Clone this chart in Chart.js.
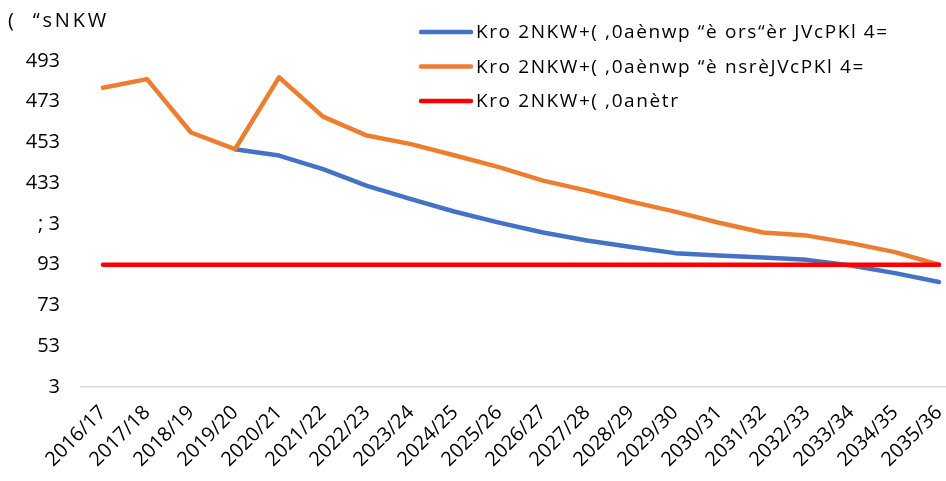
<!DOCTYPE html>
<html>
<head>
<meta charset="utf-8">
<script src="https://cdn.jsdelivr.net/npm/chart.js@4"></script>
<style>
  html, body { margin: 0; padding: 0; background: #fff; overflow: hidden; }
  #wrap { width: 962px; height: 481px; }
</style>
</head>
<body>
<div id="wrap"><canvas id="c" width="962" height="481"></canvas></div>
<script>
// Categories (financial years)
const years = ['2016/17','2017/18','2018/19','2019/20','2020/21','2021/22','2022/23','2023/24','2024/25','2025/26',
               '2026/27','2027/28','2028/29','2029/30','2030/31','2031/32','2032/33','2033/34','2034/35','2035/36'];

// Series values
const seriesBlue = [null, null, null, 116.7, 113.6, 106.9, 98.7, 92.2, 86.0, 80.7,
                    75.8, 71.9, 68.7, 65.7, 64.5, 63.6, 62.4, 59.6, 55.9, 51.5];
const seriesOrange = [146.9, 151.1, 124.9, 116.7, 152.0, 132.7, 123.4, 119.2, 113.6, 107.9,
                      101.3, 96.4, 91.0, 86.1, 80.6, 75.8, 74.3, 70.6, 66.2, 60.0];
const seriesRed = [60, 60, 60, 60, 60, 60, 60, 60, 60, 60,
                   60, 60, 60, 60, 60, 60, 60, 60, 60, 60];

// Labels as they appear on the chart
const seriesNames = ['Kro 2NKW+( ,0aènwp “è ors“èr JVcPKl 4=',
                     'Kro 2NKW+( ,0aènwp “è nsrèJVcPKl 4=',
                     'Kro 2NKW+( ,0anètr'];
const yTickLabels = ['3', '53', '73', '93', '; 3', '433', '453', '473', '493'];
const titleText = '(  “sNKW';

const FONT = '"Open Sans", "Noto Sans", sans-serif';
const colors = ['#4472C4', '#ED7D31', '#FF0000'];

// Title in the top-left corner and a stacked legend in the upper right
const headerAndLegend = {
  id: 'headerAndLegend',
  afterDraw(chart) {
    const ctx = chart.ctx;
    ctx.save();
    ctx.textBaseline = 'middle';
    ctx.textAlign = 'left';
    ctx.fillStyle = '#000';
    ctx.font = '20px ' + FONT;
    ctx.letterSpacing = '2.8px';
    ctx.fillText(titleText, 8, 21);

    ctx.font = '19px ' + FONT;
    ctx.letterSpacing = '1.6px';
    chart.data.datasets.forEach((ds, i) => {
      const y = 32 + i * 34.5;
      ctx.strokeStyle = ds.borderColor;
      ctx.lineWidth = 4.5;
      ctx.lineCap = 'round';
      ctx.beginPath();
      ctx.moveTo(421, y);
      ctx.lineTo(471, y);
      ctx.stroke();
      ctx.fillStyle = '#000';
      ctx.fillText(ds.label, 476, y + 1);
    });
    ctx.restore();
  }
};

new Chart(document.getElementById('c'), {
  type: 'line',
  data: {
    labels: years,
    datasets: [
      { label: seriesNames[0], data: seriesBlue, borderColor: colors[0], backgroundColor: colors[0], order: 2 },
      { label: seriesNames[1], data: seriesOrange, borderColor: colors[1], backgroundColor: colors[1], order: 1 },
      { label: seriesNames[2], data: seriesRed, borderColor: colors[2], backgroundColor: colors[2], order: 0 }
    ]
  },
  options: {
    responsive: false,
    animation: false,
    layout: { padding: { left: 8, right: 0, top: 61, bottom: 0 } },
    elements: {
      point: { radius: 0, hoverRadius: 0 },
      line: { borderWidth: 4.5, tension: 0, borderCapStyle: 'round', borderJoinStyle: 'round' }
    },
    plugins: {
      legend: { display: false },
      tooltip: { enabled: false },
      title: { display: false }
    },
    scales: {
      x: {
        offset: true,
        grid: { display: false },
        border: { display: true, color: '#d9d9d9', width: 1.5 },
        ticks: {
          color: '#000',
          font: { family: FONT, size: 20 },
          minRotation: 45,
          maxRotation: 45,
          autoSkip: false,
          padding: 6
        },
        afterFit(scale) { scale.height = 94; }
      },
      y: {
        min: 0,
        max: 160,
        grid: { display: false },
        border: { display: false },
        ticks: {
          stepSize: 20,
          color: '#000',
          font: { family: FONT, size: 20 },
          padding: 13,
          callback: (v, i) => yTickLabels[i]
        },
        afterFit(scale) { scale.width = 73; }
      }
    }
  },
  plugins: [headerAndLegend]
});
</script>
</body>
</html>
